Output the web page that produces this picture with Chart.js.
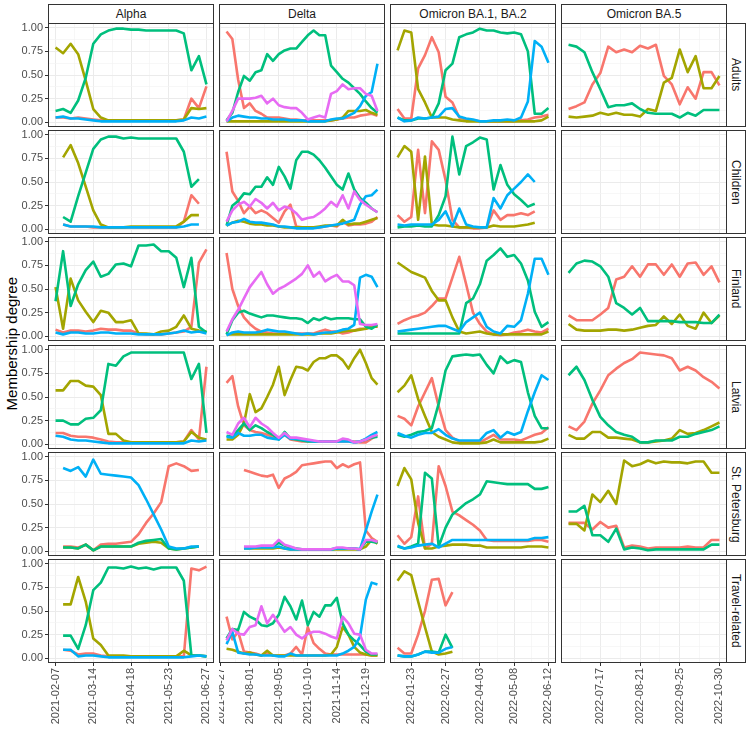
<!DOCTYPE html>
<html lang="en">
<head>
<meta charset="UTF-8" />
<title>Membership degree by variant period</title>
<script src="https://cdn.jsdelivr.net/npm/chart.js"></script>
<style>
  body { margin: 0; background: #fff; font-family: "Liberation Sans", Arial, sans-serif; }
  #wrap { position: relative; width: 750px; height: 733px; overflow: hidden; }
  #wrap canvas, .strip, .ytitle { position: absolute; }
  .strip { box-sizing: border-box; border: 1px solid #333; background: #fff; color: #1a1a1a;
           font-size: 12px; display: flex; align-items: center; justify-content: center; white-space: nowrap; }
  .strip.right { writing-mode: vertical-rl; }
  .ytitle { font-size: 15px; color: #000; writing-mode: vertical-rl; transform: rotate(180deg);
            white-space: nowrap; }
</style>
<script>
  const columns = ["Alpha", "Delta", "Omicron BA.1, BA.2", "Omicron BA.5"];
  const rows = ["Adults", "Children", "Finland", "Latvia", "St. Petersburg", "Travel-related"];
  const clusterColors = ["#F8766D", "#A3A500", "#00BF7D", "#00B0F6", "#E76BF3"];

  // weekly sampling dates per variant period
  const alphaDates = ["2021-02-07","2021-02-14","2021-02-21","2021-02-28","2021-03-07","2021-03-14","2021-03-21",
    "2021-03-28","2021-04-04","2021-04-11","2021-04-18","2021-04-25","2021-05-02","2021-05-09","2021-05-16",
    "2021-05-23","2021-05-30","2021-06-06","2021-06-13","2021-06-20","2021-06-27"];
  const deltaDates = ["2021-07-04","2021-07-11","2021-07-18","2021-07-25","2021-08-01","2021-08-08","2021-08-15",
    "2021-08-22","2021-08-29","2021-09-05","2021-09-12","2021-09-19","2021-09-26","2021-10-03","2021-10-10",
    "2021-10-17","2021-10-24","2021-10-31","2021-11-07","2021-11-14","2021-11-21","2021-11-28","2021-12-05",
    "2021-12-12","2021-12-19","2021-12-26","2022-01-02"];
  const ba1Dates = ["2022-01-09","2022-01-16","2022-01-23","2022-01-30","2022-02-06","2022-02-13","2022-02-20",
    "2022-02-27","2022-03-06","2022-03-13","2022-03-20","2022-03-27","2022-04-03","2022-04-10","2022-04-17",
    "2022-04-24","2022-05-01","2022-05-08","2022-05-15","2022-05-22","2022-05-29","2022-06-05","2022-06-12"];
  const ba5Dates = ["2022-06-19","2022-06-26","2022-07-03","2022-07-10","2022-07-17","2022-07-24","2022-07-31",
    "2022-08-07","2022-08-14","2022-08-21","2022-08-28","2022-09-04","2022-09-11","2022-09-18","2022-09-25",
    "2022-10-02","2022-10-09","2022-10-16","2022-10-23","2022-10-30"];

  const alphaTicks = ["2021-02-07", "2021-03-14", "2021-04-18", "2021-05-23", "2021-06-27"];
  const deltaTicks = ["2021-06-27", "2021-08-01", "2021-09-05", "2021-10-10", "2021-11-14", "2021-12-19"];
  const ba1Ticks = ["2022-01-23", "2022-02-27", "2022-04-03", "2022-05-08", "2022-06-12"];
  const ba5Ticks = ["2022-07-17", "2022-08-21", "2022-09-25", "2022-10-30"];
  const yTicks = [0, 0.25, 0.5, 0.75, 1];

  // membership per cluster: [red, olive, green, blue, purple]
  const adultsAlpha = [
    [0.05,0.05,0.04,0.05,0.04,0.03,0.02,0.02,0.02,0.02,0.02,0.02,0.02,0.02,0.02,0.02,0.02,0.03,0.25,0.15,0.38],
    [0.79,0.73,0.83,0.72,0.44,0.14,0.05,0.02,0.02,0.02,0.02,0.02,0.02,0.02,0.02,0.02,0.02,0.03,0.15,0.14,0.15],
    [0.12,0.14,0.10,0.23,0.47,0.83,0.93,0.97,0.99,0.99,0.98,0.98,0.97,0.97,0.97,0.97,0.97,0.94,0.55,0.70,0.40],
    [0.05,0.06,0.04,0.04,0.03,0.02,0.01,0.01,0.01,0.01,0.01,0.01,0.01,0.01,0.01,0.01,0.01,0.02,0.05,0.04,0.06]
  ];
  const childrenAlpha = [
    [null,0.05,0.03,0.03,0.03,0.02,0.02,0.02,0.02,0.02,0.02,0.02,0.02,0.02,0.02,0.02,0.02,0.08,0.36,0.27,null],
    [null,0.76,0.89,0.70,0.45,0.20,0.05,0.02,0.02,0.02,0.03,0.03,0.03,0.03,0.03,0.03,0.03,0.08,0.15,0.15,null],
    [null,0.13,0.08,0.35,0.60,0.85,0.95,0.98,0.98,0.96,0.97,0.96,0.96,0.96,0.96,0.96,0.96,0.82,0.45,0.53,null],
    [null,0.05,0.03,0.03,0.03,0.03,0.02,0.02,0.02,0.02,0.02,0.02,0.02,0.02,0.02,0.02,0.02,0.03,0.05,0.05,null]
  ];
  const finlandAlpha = [
    [0.07,0.04,0.06,0.06,0.05,0.06,0.08,0.07,0.07,0.06,0.06,0.03,0.02,0.02,0.02,0.03,0.04,0.05,0.10,0.78,0.92],
    [0.52,0.08,0.61,0.38,0.26,0.15,0.27,0.25,0.15,0.15,0.17,0.03,0.03,0.02,0.05,0.06,0.10,0.22,0.08,0.06,0.05],
    [0.37,0.90,0.32,0.55,0.70,0.79,0.63,0.66,0.76,0.77,0.74,0.96,0.96,0.97,0.90,0.90,0.83,0.52,0.83,0.10,0.04],
    [0.04,0.02,0.04,0.04,0.03,0.03,0.04,0.04,0.03,0.03,0.03,0.02,0.02,0.02,0.02,0.03,0.04,0.06,0.04,0.05,0.03]
  ];
  const latviaAlpha = [
    [0.12,0.12,0.09,0.08,0.08,0.07,0.05,0.03,0.02,0.02,0.02,0.02,0.02,0.02,0.02,0.02,0.02,0.03,0.15,0.05,0.82],
    [0.57,0.57,0.67,0.67,0.62,0.61,0.52,0.11,0.11,0.04,0.02,0.02,0.02,0.02,0.02,0.02,0.02,0.03,0.13,0.07,0.05],
    [0.25,0.25,0.21,0.21,0.27,0.28,0.36,0.85,0.83,0.93,0.97,0.97,0.97,0.97,0.97,0.97,0.97,0.97,0.69,0.85,0.12],
    [0.09,0.08,0.05,0.04,0.04,0.03,0.02,0.01,0.01,0.01,0.01,0.01,0.01,0.01,0.01,0.01,0.01,0.01,0.04,0.03,0.04]
  ];
  const stpAlpha = [
    [null,0.05,0.05,0.04,0.07,0.01,0.07,0.08,0.08,0.09,0.10,0.18,0.30,0.40,0.52,0.90,0.93,0.90,0.85,0.86,null],
    [null,0.04,0.04,0.03,0.07,0.01,0.05,0.05,0.05,0.05,0.05,0.08,0.09,0.10,0.09,0.03,0.02,0.03,0.04,0.05,null],
    [null,0.04,0.04,0.03,0.07,0.01,0.05,0.05,0.05,0.05,0.05,0.09,0.11,0.12,0.13,0.03,0.02,0.03,0.04,0.05,null],
    [null,0.88,0.85,0.89,0.79,0.97,0.82,0.81,0.80,0.79,0.78,0.70,0.55,0.39,0.23,0.05,0.03,0.03,0.05,0.05,null]
  ];
  const travelAlpha = [
    [null,0.09,0.08,0.04,0.05,0.05,0.03,0.02,0.02,0.02,0.02,0.02,0.02,0.02,0.02,0.02,0.02,0.02,0.95,0.93,0.97],
    [null,0.57,0.57,0.86,0.60,0.21,0.14,0.03,0.03,0.03,0.02,0.02,0.02,0.02,0.02,0.02,0.02,0.08,0.03,0.03,0.02],
    [null,0.24,0.24,0.10,0.35,0.72,0.80,0.96,0.96,0.95,0.97,0.95,0.96,0.94,0.96,0.96,0.96,0.82,0.03,0.03,0.02],
    [null,0.09,0.09,0.02,0.03,0.03,0.02,0.01,0.01,0.01,0.01,0.01,0.01,0.01,0.01,0.01,0.01,0.01,0.02,0.03,0.02]
  ];

  const adultsDelta = [
    [0.96,0.88,0.45,0.15,0.20,0.12,0.09,0.05,0.05,0.05,0.04,0.03,0.03,0.02,0.02,0.02,0.02,0.02,0.02,0.03,0.04,0.05,0.05,0.07,0.08,0.09,0.07],
    [0.01,0.01,0.01,0.01,0.01,0.01,0.01,0.01,0.01,0.01,0.01,0.01,0.01,0.01,0.01,0.01,0.01,0.01,0.02,0.03,0.05,0.12,0.12,0.12,0.13,0.10,0.08],
    [0.02,0.10,0.32,0.49,0.44,0.53,0.55,0.72,0.65,0.72,0.76,0.78,0.78,0.85,0.92,0.97,0.92,0.92,0.60,0.53,0.46,0.42,0.36,0.30,0.22,0.15,0.10],
    [0.01,0.05,0.07,0.06,0.05,0.05,0.04,0.04,0.03,0.03,0.03,0.02,0.02,0.02,0.01,0.01,0.01,0.01,0.03,0.04,0.04,0.07,0.10,0.17,0.28,0.32,0.62],
    [0.01,0.12,0.25,0.25,0.25,0.26,0.28,0.20,0.25,0.18,0.16,0.15,0.15,0.10,0.03,0.05,0.07,0.05,0.30,0.33,0.40,0.35,0.36,0.36,0.30,0.28,0.12]
  ];
  const childrenDelta = [
    [0.82,0.40,0.30,0.17,0.24,0.17,0.20,0.17,0.12,0.07,0.19,0.26,0.03,0.02,0.02,0.02,0.02,0.03,0.04,0.03,0.08,0.04,0.05,0.05,0.06,0.08,0.13],
    [0.04,0.07,0.09,0.08,0.06,0.05,0.05,0.04,0.04,0.03,0.02,0.02,0.02,0.02,0.02,0.02,0.03,0.04,0.04,0.04,0.10,0.05,0.06,0.06,0.08,0.10,0.12],
    [0.04,0.25,0.30,0.38,0.37,0.45,0.45,0.55,0.47,0.66,0.56,0.43,0.73,0.82,0.82,0.79,0.73,0.65,0.56,0.47,0.42,0.59,0.42,0.33,0.28,0.22,0.18],
    [0.04,0.07,0.08,0.11,0.08,0.07,0.07,0.06,0.05,0.03,0.03,0.02,0.01,0.01,0.01,0.01,0.02,0.03,0.04,0.05,0.06,0.08,0.10,0.26,0.35,0.36,0.42],
    [0.08,0.20,0.26,0.29,0.24,0.32,0.28,0.22,0.28,0.20,0.24,0.22,0.17,0.10,0.12,0.13,0.17,0.22,0.29,0.24,0.36,0.22,0.40,0.31,0.26,0.22,0.18]
  ];
  const finlandDelta = [
    [0.88,0.50,0.32,0.20,0.13,0.08,0.05,0.04,0.03,0.03,0.03,0.03,0.03,0.03,0.03,0.03,0.05,0.07,0.05,0.05,0.03,0.04,0.06,0.08,0.08,0.10,0.10],
    [0.02,0.02,0.02,0.02,0.02,0.02,0.02,0.02,0.02,0.02,0.02,0.02,0.02,0.02,0.02,0.02,0.03,0.03,0.03,0.04,0.05,0.06,0.06,0.07,0.08,0.10,0.10],
    [0.02,0.17,0.25,0.27,0.24,0.22,0.20,0.22,0.22,0.21,0.20,0.19,0.19,0.18,0.14,0.19,0.17,0.20,0.18,0.19,0.19,0.19,0.18,0.18,0.10,0.08,0.12],
    [0.01,0.04,0.05,0.04,0.04,0.04,0.05,0.07,0.06,0.05,0.05,0.04,0.03,0.02,0.03,0.02,0.03,0.04,0.04,0.05,0.07,0.08,0.12,0.62,0.65,0.63,0.52],
    [0.05,0.18,0.28,0.40,0.52,0.60,0.68,0.55,0.45,0.50,0.53,0.57,0.61,0.66,0.75,0.63,0.68,0.58,0.62,0.65,0.58,0.58,0.54,0.13,0.12,0.12,0.13]
  ];
  const latviaDelta = [
    [0.65,0.72,0.40,0.20,0.15,0.13,0.12,0.10,0.08,0.06,0.10,0.05,0.04,0.03,0.03,0.03,0.03,0.03,0.03,0.03,0.03,0.03,0.03,0.02,0.02,0.06,0.10],
    [0.05,0.05,0.10,0.22,0.53,0.34,0.38,0.50,0.63,0.82,0.52,0.68,0.82,0.81,0.78,0.87,0.91,0.91,0.94,0.94,0.89,0.80,0.91,1.00,0.86,0.70,0.63],
    [0.09,0.08,0.15,0.22,0.15,0.20,0.17,0.13,0.10,0.05,0.13,0.06,0.05,0.04,0.03,0.03,0.03,0.03,0.03,0.03,0.04,0.04,0.02,0.03,0.05,0.07,0.08],
    [0.08,0.07,0.12,0.09,0.09,0.10,0.10,0.07,0.06,0.05,0.10,0.06,0.06,0.05,0.04,0.03,0.03,0.03,0.03,0.03,0.03,0.03,0.02,0.03,0.06,0.10,0.13],
    [0.13,0.10,0.22,0.28,0.18,0.28,0.22,0.18,0.12,0.07,0.12,0.07,0.07,0.06,0.05,0.04,0.03,0.03,0.03,0.03,0.06,0.05,0.02,0.03,0.05,0.08,0.10]
  ];
  const stpDelta = [
    [null,null,null,0.86,0.84,0.82,0.80,0.79,0.81,0.67,0.77,0.80,0.84,0.91,0.92,0.93,0.94,0.95,0.95,0.88,0.92,0.89,0.92,0.94,0.22,0.14,0.10],
    [null,null,null,0.03,0.03,0.03,0.03,0.03,0.03,0.04,0.03,0.02,0.02,0.02,0.02,0.02,0.02,0.02,0.02,0.02,0.02,0.02,0.02,0.02,0.05,0.12,0.08],
    [null,null,null,0.04,0.04,0.04,0.05,0.05,0.05,0.09,0.06,0.04,0.03,0.02,0.02,0.02,0.02,0.02,0.02,0.03,0.03,0.03,0.03,0.02,0.10,0.10,0.09],
    [null,null,null,0.03,0.03,0.04,0.04,0.04,0.04,0.05,0.03,0.02,0.02,0.02,0.02,0.02,0.02,0.02,0.02,0.03,0.03,0.03,0.03,0.02,0.22,0.42,0.60],
    [null,null,null,0.05,0.05,0.05,0.06,0.06,0.06,0.12,0.07,0.05,0.03,0.02,0.02,0.02,0.02,0.02,0.02,0.04,0.04,0.03,0.03,0.02,0.12,0.12,0.10]
  ];
  const travelDelta = [
    [0.44,0.20,0.28,0.07,0.06,0.05,0.03,0.05,0.03,0.03,0.03,0.05,0.12,0.04,0.33,0.16,0.10,0.05,0.04,0.04,0.04,0.04,0.04,0.04,0.04,0.03,0.03],
    [0.10,0.09,0.07,0.05,0.06,0.04,0.03,0.08,0.03,0.03,0.03,0.03,0.03,0.03,0.03,0.03,0.03,0.03,0.04,0.12,0.33,0.25,0.12,0.06,0.04,0.03,0.03],
    [0.21,0.31,0.30,0.49,0.44,0.41,0.35,0.34,0.37,0.46,0.65,0.55,0.41,0.61,0.35,0.49,0.44,0.56,0.56,0.64,0.37,0.25,0.19,0.14,0.07,0.04,0.04],
    [0.15,0.28,0.06,0.05,0.04,0.04,0.03,0.03,0.03,0.02,0.02,0.05,0.03,0.03,0.03,0.03,0.03,0.03,0.03,0.03,0.05,0.08,0.12,0.23,0.62,0.80,0.78],
    [0.19,0.31,0.26,0.25,0.33,0.35,0.55,0.37,0.46,0.37,0.28,0.33,0.25,0.21,0.26,0.28,0.28,0.26,0.23,0.21,0.44,0.37,0.26,0.25,0.09,0.05,0.05]
  ];

  const adultsBA1 = [
    [0.14,0.04,0.04,0.57,0.71,0.90,0.74,0.27,0.21,0.05,0.03,0.02,0.01,0.01,0.01,0.01,0.01,0.01,0.02,0.03,0.05,0.06,0.08],
    [0.76,0.97,0.95,0.35,0.21,0.05,0.05,0.05,0.03,0.02,0.01,0.01,0.01,0.01,0.01,0.01,0.01,0.01,0.01,0.01,0.01,0.02,0.06],
    [0.05,0.02,0.02,0.04,0.04,0.05,0.20,0.55,0.62,0.90,0.93,0.95,0.99,0.97,0.97,0.95,0.94,0.95,0.93,0.75,0.09,0.09,0.15],
    [0.05,0.01,0.02,0.05,0.04,0.05,0.06,0.14,0.15,0.06,0.04,0.03,0.01,0.01,0.02,0.02,0.03,0.02,0.05,0.22,0.86,0.80,0.63]
  ];
  const childrenBA1 = [
    [0.15,0.08,0.13,0.84,0.17,0.93,0.84,0.52,0.10,0.02,0.02,0.01,0.01,0.02,0.20,0.10,0.15,0.15,0.17,0.15,0.19,null,null],
    [0.76,0.88,0.82,0.10,0.77,0.05,0.04,0.04,0.03,0.02,0.02,0.02,0.02,0.02,0.04,0.03,0.03,0.03,0.04,0.05,0.07,null,null],
    [0.02,0.03,0.03,0.04,0.03,0.03,0.15,0.35,0.98,0.58,0.88,0.92,0.97,0.95,0.42,0.68,0.47,0.37,0.31,0.24,0.27,null,null],
    [0.05,0.04,0.05,0.05,0.05,0.05,0.10,0.19,0.03,0.22,0.05,0.03,0.02,0.02,0.33,0.22,0.36,0.43,0.50,0.58,0.50,null,null]
  ];
  const finlandBA1 = [
    [0.13,0.17,0.20,0.22,0.25,0.32,0.40,0.40,0.62,0.84,0.55,0.25,0.13,0.05,0.02,0.01,0.02,0.04,0.05,0.07,0.05,0.04,0.08],
    [0.78,0.73,0.68,0.65,0.62,0.48,0.38,0.38,0.20,0.05,0.03,0.04,0.05,0.03,0.02,0.02,0.02,0.02,0.02,0.02,0.02,0.02,0.05],
    [0.03,0.03,0.03,0.03,0.03,0.03,0.03,0.03,0.03,0.03,0.35,0.40,0.55,0.80,0.86,0.93,0.84,0.86,0.77,0.59,0.26,0.10,0.15],
    [0.05,0.06,0.07,0.08,0.09,0.10,0.11,0.11,0.08,0.05,0.15,0.20,0.25,0.10,0.05,0.03,0.11,0.10,0.17,0.45,0.82,0.82,0.65]
  ];
  const latviaBA1 = [
    [0.30,0.27,0.20,0.40,0.55,0.70,0.40,0.15,0.07,0.03,0.02,0.02,0.02,0.06,0.10,0.05,0.05,0.05,0.04,0.07,0.10,0.12,0.18],
    [0.55,0.62,0.73,0.48,0.30,0.13,0.08,0.05,0.02,0.01,0.01,0.01,0.01,0.02,0.05,0.02,0.02,0.02,0.02,0.02,0.02,0.03,0.06],
    [0.10,0.08,0.10,0.13,0.14,0.17,0.43,0.78,0.93,0.94,0.95,0.94,0.95,0.84,0.75,0.93,0.86,0.89,0.87,0.55,0.30,0.17,0.17],
    [0.12,0.09,0.07,0.10,0.12,0.12,0.16,0.10,0.06,0.04,0.04,0.04,0.04,0.12,0.15,0.07,0.13,0.10,0.13,0.35,0.55,0.73,0.68]
  ];
  const stpBA1 = [
    [0.17,0.08,0.15,0.58,0.03,0.08,0.90,0.69,0.42,0.38,0.33,0.28,0.22,0.12,0.11,0.11,0.11,0.11,0.11,0.11,0.12,0.12,0.10],
    [0.69,0.88,0.76,0.30,0.03,0.03,0.05,0.06,0.07,0.07,0.07,0.06,0.06,0.04,0.04,0.04,0.04,0.04,0.04,0.05,0.05,0.05,0.04],
    [0.05,0.03,0.05,0.08,0.83,0.77,0.05,0.25,0.39,0.45,0.51,0.55,0.60,0.74,0.73,0.72,0.71,0.71,0.71,0.71,0.66,0.66,0.68],
    [0.06,0.03,0.04,0.06,0.07,0.08,0.04,0.08,0.12,0.12,0.12,0.12,0.12,0.12,0.12,0.12,0.12,0.12,0.12,0.12,0.14,0.14,0.15]
  ];
  const travelBA1 = [
    [0.11,0.05,0.05,0.25,0.50,0.83,0.84,0.56,0.70,null,null,null,null,null,null,null,null,null,null,null,null,null,null],
    [0.82,0.92,0.88,0.60,0.33,0.07,0.04,0.05,0.07,null,null,null,null,null,null,null,null,null,null,null,null,null,null],
    [0.03,0.02,0.02,0.04,0.07,0.07,0.06,0.25,0.11,null,null,null,null,null,null,null,null,null,null,null,null,null,null],
    [0.03,0.02,0.02,0.04,0.07,0.06,0.06,0.10,0.12,null,null,null,null,null,null,null,null,null,null,null,null,null,null]
  ];

  const adultsBA5 = [
    [0.14,0.17,0.21,0.40,0.52,0.80,0.74,0.77,0.74,0.81,0.78,0.82,0.49,0.40,0.19,0.37,0.25,0.53,0.53,0.39],
    [0.06,0.05,0.06,0.07,0.10,0.08,0.10,0.08,0.08,0.06,0.14,0.12,0.42,0.47,0.77,0.53,0.70,0.36,0.36,0.49],
    [0.82,0.80,0.74,0.53,0.35,0.16,0.18,0.18,0.20,0.14,0.10,0.09,0.09,0.09,0.05,0.10,0.07,0.13,0.13,0.13]
  ];
  const childrenBA5 = [];
  const finlandBA5 = [
    [0.22,0.17,0.17,0.17,0.23,0.30,0.60,0.63,0.74,0.63,0.76,0.76,0.65,0.76,0.63,0.77,0.78,0.65,0.74,0.57],
    [0.13,0.07,0.06,0.06,0.06,0.07,0.07,0.06,0.07,0.09,0.11,0.12,0.21,0.13,0.23,0.11,0.08,0.25,0.14,0.22],
    [0.67,0.77,0.80,0.79,0.74,0.63,0.35,0.30,0.23,0.30,0.16,0.16,0.16,0.16,0.15,0.15,0.15,0.14,0.14,0.23]
  ];
  const latviaBA5 = [
    [0.19,0.15,0.24,0.43,0.57,0.73,0.80,0.86,0.90,0.97,0.96,0.95,0.94,0.91,0.78,0.82,0.78,0.71,0.66,0.59],
    [0.10,0.06,0.06,0.13,0.13,0.07,0.07,0.06,0.05,0.02,0.02,0.03,0.04,0.06,0.15,0.11,0.12,0.15,0.19,0.23],
    [0.73,0.82,0.68,0.47,0.29,0.20,0.13,0.10,0.08,0.02,0.02,0.04,0.04,0.04,0.08,0.08,0.11,0.13,0.15,0.19]
  ];
  const stpBA5 = [
    [0.30,0.30,0.30,0.23,0.31,0.25,0.27,0.04,0.06,0.05,0.03,0.04,0.04,0.04,0.04,0.05,0.04,0.04,0.12,0.12],
    [0.29,0.29,0.22,0.60,0.52,0.64,0.50,0.96,0.90,0.92,0.96,0.93,0.95,0.94,0.94,0.93,0.95,0.95,0.83,0.83],
    [0.42,0.42,0.48,0.17,0.17,0.10,0.24,0.02,0.04,0.03,0.01,0.02,0.02,0.02,0.02,0.02,0.02,0.02,0.07,0.07]
  ];
  const travelBA5 = [];

  const colDates = [alphaDates, deltaDates, ba1Dates, ba5Dates];
  const colTicks = [alphaTicks, deltaTicks, ba1Ticks, ba5Ticks];
  const panelSeries = [
    [adultsAlpha, adultsDelta, adultsBA1, adultsBA5],
    [childrenAlpha, childrenDelta, childrenBA1, childrenBA5],
    [finlandAlpha, finlandDelta, finlandBA1, finlandBA5],
    [latviaAlpha, latviaDelta, latviaBA1, latviaBA5],
    [stpAlpha, stpDelta, stpBA1, stpBA5],
    [travelAlpha, travelDelta, travelBA1, travelBA5]
  ];

  // page geometry (px)
  const COL_LEFT = [48, 219, 390, 561];
  const ROW_TOP = [23, 130, 237, 345, 452, 559];
  const PANEL_W = 166, PANEL_H = 104;
  const AXIS_LEFT = 20, PAGE_H = 733;

  const toDay = (s) => Date.parse(s) / 864e5;
  const fmtDay = (d) => new Date(Math.round(d) * 864e5).toISOString().slice(0, 10);

  Chart.defaults.font.family = "'Liberation Sans', Arial, sans-serif";

  const panelBorder = {
    id: "panelBorder",
    afterDraw(chart) {
      const { ctx, chartArea: a } = chart;
      ctx.save();
      ctx.strokeStyle = "#333333";
      ctx.lineWidth = 1;
      ctx.strokeRect(a.left + 0.5, a.top + 0.5, a.right - a.left - 1, a.bottom - a.top - 1);
      ctx.restore();
    },
  };

  function xRange(c) {
    const days = colDates[c].map(toDay);
    const lo = days[0], hi = days[days.length - 1];
    const pad = (hi - lo) * 0.05;
    const major = colTicks[c].map(toDay);
    const step = major[1] - major[0];
    const minor = [major[0] - step / 2, ...major.map((m) => m + step / 2)]
      .filter((v) => v > lo - pad && v < hi + pad);
    return { min: lo - pad, max: hi + pad, major, minor };
  }

  function drawPanel(wrap, r, c) {
    const isLeft = c === 0;
    const isBottom = r === rows.length - 1;
    const left = isLeft ? AXIS_LEFT : COL_LEFT[c];
    const top = ROW_TOP[r];
    const bottom = isBottom ? PAGE_H : top + PANEL_H;
    const canvas = document.createElement("canvas");
    canvas.width = COL_LEFT[c] + PANEL_W - left;
    canvas.height = bottom - top;
    canvas.style.left = left + "px";
    canvas.style.top = top + "px";
    wrap.appendChild(canvas);

    const { min, max, major, minor } = xRange(c);
    const xAll = [...minor, ...major].sort((a, b) => a - b);
    const yMinor = [0.125, 0.375, 0.625, 0.875];
    const yAll = [...yTicks, ...yMinor].sort((a, b) => a - b);
    const dates = colDates[c];

    const datasets = panelSeries[r][c].map((vals, k) => ({
      data: vals.map((v, i) => ({ x: toDay(dates[i]), y: v })),
      borderColor: clusterColors[k],
      borderWidth: 2.6,
      borderJoinStyle: "round",
      pointRadius: 0,
      fill: false,
      spanGaps: false,
      order: 5 - k,
    }));

    new Chart(canvas, {
      type: "line",
      data: { datasets },
      options: {
        responsive: false,
        animation: false,
        events: [],
        layout: { padding: 0 },
        plugins: { legend: { display: false }, tooltip: { enabled: false } },
        scales: {
          x: {
            type: "linear",
            min, max,
            afterBuildTicks: (s) => { s.ticks = xAll.map((v) => ({ value: v })); },
            afterFit: (s) => {
              s.height = isBottom ? PAGE_H - (top + PANEL_H) : 0;
              s.paddingLeft = 0;
              s.paddingRight = 0;
            },
            border: { display: false },
            grid: {
              color: (ctx) => (major.includes(ctx.tick.value) ? "#EBEBEB" : "#F4F4F4"),
              lineWidth: (ctx) => (major.includes(ctx.tick.value) ? 1 : 0.7),
              drawTicks: isBottom,
              tickLength: 3,
              tickColor: (ctx) => (major.includes(ctx.tick.value) ? "#333333" : "rgba(0,0,0,0)"),
            },
            ticks: {
              display: isBottom,
              autoSkip: false,
              minRotation: 90,
              maxRotation: 90,
              padding: 2,
              color: "#4D4D4D",
              font: { size: 11 },
              callback: (v) => (major.includes(v) ? fmtDay(v) : ""),
            },
          },
          y: {
            min: -0.05,
            max: 1.05,
            afterBuildTicks: (s) => { s.ticks = yAll.map((v) => ({ value: v })); },
            afterFit: (s) => {
              s.width = isLeft ? COL_LEFT[0] - AXIS_LEFT : 0;
              s.paddingTop = 0;
              s.paddingBottom = 0;
            },
            border: { display: false },
            grid: {
              color: (ctx) => (yTicks.includes(ctx.tick.value) ? "#EBEBEB" : "#F4F4F4"),
              lineWidth: (ctx) => (yTicks.includes(ctx.tick.value) ? 1 : 0.7),
              drawTicks: isLeft,
              tickLength: 3,
              tickColor: (ctx) => (yTicks.includes(ctx.tick.value) ? "#333333" : "rgba(0,0,0,0)"),
            },
            ticks: {
              display: isLeft,
              autoSkip: false,
              padding: 2,
              color: "#4D4D4D",
              font: { size: 11 },
              callback: (v) => (yTicks.includes(v) ? v.toFixed(2) : ""),
            },
          },
        },
      },
      plugins: [panelBorder],
    });
  }

  function addDiv(wrap, cls, text, css) {
    const d = document.createElement("div");
    d.className = cls;
    d.textContent = text;
    Object.assign(d.style, css);
    wrap.appendChild(d);
  }

  document.addEventListener("DOMContentLoaded", function () {
    const wrap = document.getElementById("wrap");
    columns.forEach((name, c) =>
      addDiv(wrap, "strip", name, { left: COL_LEFT[c] + "px", top: "4px", width: PANEL_W + "px", height: "20px" })
    );
    rows.forEach((name, r) =>
      addDiv(wrap, "strip right", name, {
        left: COL_LEFT[3] + PANEL_W - 1 + "px", top: ROW_TOP[r] + "px", width: "20px", height: PANEL_H + "px",
      })
    );
    rows.forEach((_, r) => columns.forEach((_, c) => drawPanel(wrap, r, c)));
    const yTitle = document.querySelector(".ytitle");
    yTitle.style.left = "3px";
    yTitle.style.top = ROW_TOP[0] + (ROW_TOP[5] + PANEL_H - ROW_TOP[0]) / 2 - yTitle.offsetHeight / 2 + "px";
  });
</script>
</head>
<body>
  <div id="wrap">
    <div class="ytitle">Membership degree</div>
  </div>
</body>
</html>
